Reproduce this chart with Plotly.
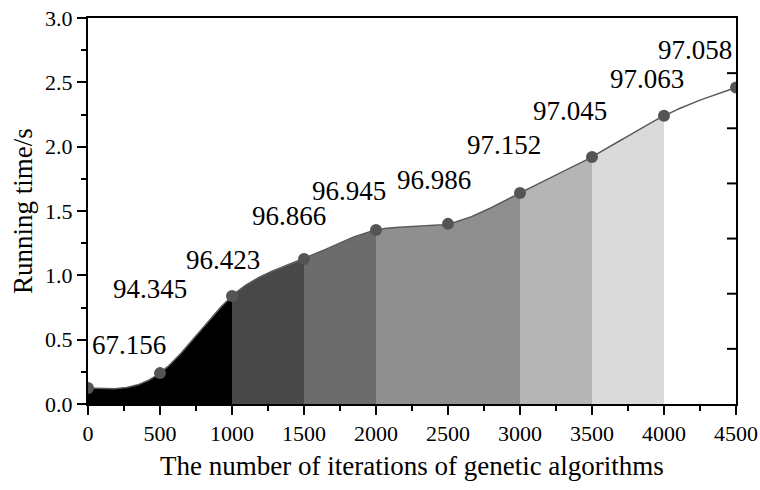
import numpy as np
import plotly.graph_objects as go

# Iterations of the genetic algorithm and measured running time (s)
iterations = [0, 500, 1000, 1500, 2000, 2500, 3000, 3500, 4000, 4500]
running_time = [0.124, 0.24, 0.84, 1.127, 1.352, 1.40, 1.64, 1.92, 2.24, 2.46]
# Accuracy (%) printed above each point
accuracy = ["67.156", "94.345", "96.423", "96.866", "96.945",
            "96.986", "97.152", "97.045", "97.063", "97.058"]

# Shaded bands under the curve: (start, end) iteration and grey level
band_edges = [(0, 1000), (1000, 1500), (1500, 2000), (2000, 3000),
              (3000, 3500), (3500, 4000)]
band_colors = ["#000000", "#484848", "#6c6c6c", "#8f8f8f", "#b5b5b5", "#dadada"]

# Pixel offsets of each value label relative to its point
label_dx = [41, -10, -9, -15, -27, -14, -16, -22, -17, -41]
label_dy = [41, 82, 34, 41, 37, 42, 46, 44, 35, 35]

# The right-hand frame carries seven equal inward tick divisions
RIGHT_DIVISIONS = 7
PLOT_W = 648

FONT = "Liberation Serif"


def natural_cubic(x, y, xs):
    """Natural cubic spline through (x, y), evaluated at xs."""
    x = np.asarray(x, float)
    y = np.asarray(y, float)
    n = len(x)
    h = np.diff(x)
    A = np.zeros((n, n))
    r = np.zeros(n)
    A[0, 0] = A[-1, -1] = 1.0
    for i in range(1, n - 1):
        A[i, i - 1] = h[i - 1]
        A[i, i] = 2 * (h[i - 1] + h[i])
        A[i, i + 1] = h[i]
        r[i] = 6 * ((y[i + 1] - y[i]) / h[i] - (y[i] - y[i - 1]) / h[i - 1])
    M = np.linalg.solve(A, r)
    xs = np.asarray(xs, float)
    idx = np.clip(np.searchsorted(x, xs, side="right") - 1, 0, n - 2)
    x0, x1 = x[idx], x[idx + 1]
    hh = x1 - x0
    return (M[idx] * (x1 - xs) ** 3 / (6 * hh)
            + M[idx + 1] * (xs - x0) ** 3 / (6 * hh)
            + (y[idx] / hh - M[idx] * hh / 6) * (x1 - xs)
            + (y[idx + 1] / hh - M[idx + 1] * hh / 6) * (xs - x0))


fig = go.Figure()

# Grey bands filled down to zero under the smoothed curve
for (a, b), col in zip(band_edges, band_colors):
    xs = np.linspace(a, b, 120)
    ys = natural_cubic(iterations, running_time, xs)
    fig.add_trace(go.Scatter(
        x=xs.tolist(), y=ys.tolist(),
        mode="lines", line=dict(width=0, color=col),
        fill="tozeroy", fillcolor=col, hoverinfo="skip", showlegend=False))

# Smooth connecting curve
xs_all = np.linspace(iterations[0], iterations[-1], 900)
fig.add_trace(go.Scatter(
    x=xs_all.tolist(), y=natural_cubic(iterations, running_time, xs_all).tolist(),
    mode="lines", line=dict(color="#5a5a5a", width=1.5),
    hoverinfo="skip", showlegend=False))

# Measured points
fig.add_trace(go.Scatter(
    x=iterations, y=running_time, mode="markers",
    marker=dict(size=12, color="#555555"), showlegend=False))

annotations = []
for xv, yv, txt, dx, dy in zip(iterations, running_time, accuracy, label_dx, label_dy):
    annotations.append(dict(
        x=xv, y=yv, xref="x", yref="y", text=txt, showarrow=False,
        xanchor="center", yanchor="middle", xshift=dx, yshift=dy + 2,
        font=dict(family=FONT, size=27, color="black")))

annotations.append(dict(
    x=0.5, y=0, xref="paper", yref="paper", showarrow=False,
    text="The number of iterations of genetic algorithms",
    xanchor="center", yanchor="middle", yshift=-62,
    font=dict(family=FONT, size=27, color="black")))
annotations.append(dict(
    x=0, y=0.5, xref="paper", yref="paper", showarrow=False,
    text="Running time/s", textangle=-90,
    xanchor="center", yanchor="middle", xshift=-65,
    font=dict(family=FONT, size=27, color="black")))

# Inward ticks on the right frame
shapes = []
for k in range(1, RIGHT_DIVISIONS):
    yk = k / RIGHT_DIVISIONS
    shapes.append(dict(type="line", xref="paper", yref="paper",
                       x0=1 - 9 / PLOT_W, x1=1, y0=yk, y1=yk,
                       line=dict(color="black", width=2)))

axis_common = dict(
    showline=True, linecolor="black", linewidth=2, mirror=True,
    ticks="outside", ticklen=9, tickwidth=2, tickcolor="black",
    showgrid=False, zeroline=False,
    tickfont=dict(family=FONT, size=22, color="black"),
)

fig.update_layout(
    width=760, height=490,
    margin=dict(l=88, r=24, t=18, b=86, autoexpand=False),
    paper_bgcolor="white", plot_bgcolor="white",
    font=dict(family=FONT, color="black"),
    xaxis=dict(range=[0, 4500], tickmode="linear", tick0=0, dtick=500,
               minor=dict(ticks="outside", ticklen=5, tickwidth=2,
                          tickcolor="black", dtick=250),
               **axis_common),
    yaxis=dict(range=[0, 3.0], tickmode="linear", tick0=0, dtick=0.5,
               tickformat=".1f",
               minor=dict(ticks="outside", ticklen=5, tickwidth=2,
                          tickcolor="black", dtick=0.25),
               **axis_common),
    annotations=annotations,
    shapes=shapes,
)

fig.write_html("out.html")
